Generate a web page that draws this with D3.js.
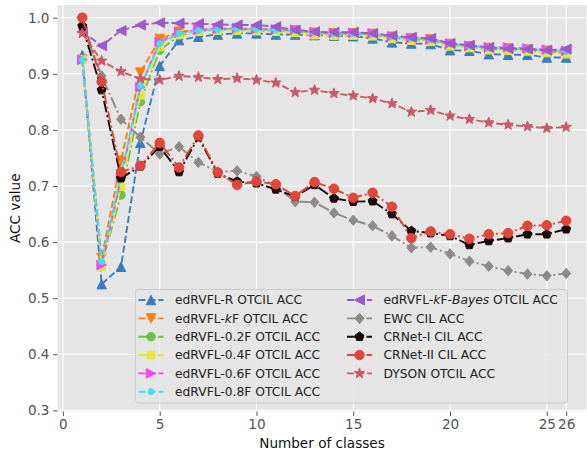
<!DOCTYPE html>
<html>
<head>
<meta charset="utf-8">
<script src="https://cdn.jsdelivr.net/npm/d3@7"></script>
<style>
  body { margin: 0; background: #fff; }
  svg { display: block; font-family: "DejaVu Sans", sans-serif; }
</style>
</head>
<body>
<svg id="chart" width="587" height="452"></svg>
<script>
// Number of classes seen so far
const classes = d3.range(1, 27);

// Accuracy per step, one array per method
const edRVFL_R    = [0.933, 0.525, 0.556, 0.777, 0.914, 0.960, 0.966, 0.970, 0.972, 0.972, 0.970, 0.970, 0.969, 0.968, 0.967, 0.963, 0.956, 0.954, 0.953, 0.942, 0.941, 0.935, 0.934, 0.934, 0.929, 0.929];
const edRVFL_kF   = [0.925, 0.572, 0.745, 0.902, 0.962, 0.975, 0.978, 0.980, 0.980, 0.979, 0.978, 0.977, 0.973, 0.972, 0.972, 0.971, 0.966, 0.963, 0.961, 0.953, 0.949, 0.946, 0.945, 0.943, 0.941, 0.939];
const edRVFL_02F  = [0.925, 0.560, 0.684, 0.850, 0.942, 0.968, 0.975, 0.978, 0.978, 0.977, 0.976, 0.975, 0.971, 0.970, 0.970, 0.969, 0.964, 0.961, 0.959, 0.951, 0.947, 0.944, 0.943, 0.941, 0.939, 0.937];
const edRVFL_04F  = [0.925, 0.556, 0.699, 0.862, 0.948, 0.970, 0.975, 0.977, 0.977, 0.976, 0.975, 0.973, 0.969, 0.968, 0.968, 0.967, 0.962, 0.959, 0.957, 0.949, 0.946, 0.942, 0.941, 0.940, 0.937, 0.935];
const edRVFL_06F  = [0.925, 0.559, 0.714, 0.876, 0.957, 0.973, 0.978, 0.980, 0.981, 0.980, 0.979, 0.979, 0.974, 0.973, 0.973, 0.972, 0.967, 0.964, 0.962, 0.954, 0.950, 0.947, 0.947, 0.945, 0.943, 0.941];
const edRVFL_08F  = [0.925, 0.565, 0.720, 0.878, 0.954, 0.972, 0.977, 0.979, 0.980, 0.979, 0.978, 0.977, 0.973, 0.972, 0.972, 0.971, 0.966, 0.963, 0.961, 0.953, 0.949, 0.946, 0.945, 0.944, 0.942, 0.940];
const edRVFL_kFBayes = [0.975, 0.950, 0.977, 0.987, 0.991, 0.990, 0.989, 0.988, 0.987, 0.987, 0.984, 0.978, 0.975, 0.974, 0.974, 0.972, 0.968, 0.965, 0.963, 0.954, 0.951, 0.947, 0.945, 0.944, 0.942, 0.944];
const EWC         = [0.987, 0.896, 0.819, 0.787, 0.757, 0.770, 0.742, 0.725, 0.727, 0.717, 0.700, 0.672, 0.671, 0.652, 0.639, 0.629, 0.611, 0.590, 0.591, 0.579, 0.566, 0.557, 0.549, 0.543, 0.540, 0.544];
const CRNet_I     = [0.985, 0.871, 0.714, 0.735, 0.770, 0.725, 0.787, 0.722, 0.708, 0.705, 0.694, 0.681, 0.702, 0.678, 0.672, 0.673, 0.650, 0.620, 0.616, 0.611, 0.595, 0.602, 0.607, 0.614, 0.614, 0.623];
const CRNet_II    = [1.000, 0.886, 0.725, 0.736, 0.777, 0.733, 0.790, 0.724, 0.702, 0.708, 0.703, 0.682, 0.707, 0.695, 0.679, 0.688, 0.663, 0.607, 0.619, 0.614, 0.606, 0.614, 0.616, 0.629, 0.630, 0.638];
const DYSON       = [0.972, 0.923, 0.904, 0.891, 0.889, 0.896, 0.894, 0.890, 0.892, 0.889, 0.884, 0.867, 0.871, 0.865, 0.861, 0.856, 0.847, 0.832, 0.835, 0.825, 0.819, 0.813, 0.809, 0.806, 0.803, 0.805];

// Tick labels
const xTicks = [0, 5, 10, 15, 20, 25, 26];
const yTicks = [0.3, 0.4, 0.5, 0.6, 0.7, 0.8, 0.9, 1.0];

// Series definitions: label pieces (text, italic), data, colour, dash, marker
const series = [
  { label: [["edRVFL-R OTCIL ACC", false]], values: edRVFL_R, color: "#3a7dbd", dash: "--", marker: "^", size: 9.5 },
  { label: [["edRVFL-", false], ["k", true], ["F OTCIL ACC", false]], values: edRVFL_kF, color: "#ff7f0e", dash: "--", marker: "v", size: 9.5 },
  { label: [["edRVFL-0.2F OTCIL ACC", false]], values: edRVFL_02F, color: "#6cc04a", dash: "-.", marker: "o", size: 8.5 },
  { label: [["edRVFL-0.4F OTCIL ACC", false]], values: edRVFL_04F, color: "#e6e63c", dash: "-.", marker: "s", size: 8.5 },
  { label: [["edRVFL-0.6F OTCIL ACC", false]], values: edRVFL_06F, color: "#f545f5", dash: "--", marker: ">", size: 9.5 },
  { label: [["edRVFL-0.8F OTCIL ACC", false]], values: edRVFL_08F, color: "#40e0ec", dash: "--", marker: ".", size: 6 },
  { label: [["edRVFL-", false], ["k", true], ["F-", false], ["Bayes", true], [" OTCIL ACC", false]], values: edRVFL_kFBayes, color: "#9d57cf", dash: "--", marker: "<", size: 10 },
  { label: [["EWC CIL ACC", false]], values: EWC, color: "#8f8a88", dash: "-.", marker: "D", size: 9.5 },
  { label: [["CRNet-I CIL ACC", false]], values: CRNet_I, color: "#1c0808", dash: "-.", marker: "p", size: 9 },
  { label: [["CRNet-II CIL ACC", false]], values: CRNet_II, color: "#e0463a", dash: "-.", marker: "o", size: 9.5 },
  { label: [["DYSON OTCIL ACC", false]], values: DYSON, color: "#c95a6a", dash: "--", marker: "*", size: 11 }
];

const svg = d3.select("#chart");
const plot = { left: 57.5, right: 586.5, top: 5, bottom: 411.5 };

const x = d3.scaleLinear().domain([-0.28, 27.05]).range([plot.left, plot.right]);
const y = d3.scaleLinear().domain([0.298, 1.0226]).range([plot.bottom, plot.top]);

// Panel background
svg.append("rect")
  .attr("x", plot.left).attr("y", plot.top)
  .attr("width", plot.right - plot.left).attr("height", plot.bottom - plot.top)
  .attr("fill", "#e5e5e5");

// White grid
const grid = svg.append("g").attr("stroke", "#fff").attr("stroke-width", 1.1);
xTicks.forEach(t => grid.append("line")
  .attr("x1", x(t)).attr("x2", x(t)).attr("y1", plot.top).attr("y2", plot.bottom));
yTicks.forEach(t => grid.append("line")
  .attr("x1", plot.left).attr("x2", plot.right).attr("y1", y(t)).attr("y2", y(t)));

// Axes
const xAxis = svg.append("g")
  .attr("transform", `translate(0,${plot.bottom})`)
  .call(d3.axisBottom(x).tickValues(xTicks).tickFormat(d3.format("d")).tickSize(4.5).tickPadding(3));
const yAxis = svg.append("g")
  .attr("transform", `translate(${plot.left},0)`)
  .call(d3.axisLeft(y).tickValues(yTicks).tickFormat(d3.format(".1f")).tickSize(4.5).tickPadding(3.5));
[xAxis, yAxis].forEach(a => {
  a.select(".domain").remove();
  a.selectAll(".tick line").attr("stroke", "#555").attr("stroke-width", 1);
  a.selectAll(".tick text").attr("fill", "#555").attr("font-size", 13.6)
    .attr("font-family", "DejaVu Sans, sans-serif");
});

svg.append("text")
  .attr("x", (plot.left + plot.right) / 2).attr("y", 448)
  .attr("text-anchor", "middle").attr("font-size", 13.6).attr("fill", "#111")
  .text("Number of classes");
svg.append("text")
  .attr("transform", `translate(20,${(plot.top + plot.bottom) / 2}) rotate(-90)`)
  .attr("text-anchor", "middle").attr("font-size", 13.6).attr("fill", "#111")
  .text("ACC value");

// Dash patterns for line width ~1.9
function dashArray(d) {
  if (d === "--") return "7,3";
  if (d === "-.") return "11.5,3,2,3";
  if (d === ":") return "2,3";
  return null;
}

// Marker shapes centred at the origin
function markerPath(type, s) {
  const h = s / 2;
  switch (type) {
    case "^": return `M0,${-h}L${h},${h}L${-h},${h}Z`;
    case "v": return `M0,${h}L${h},${-h}L${-h},${-h}Z`;
    case "<": return `M${-h},0L${h},${-h}L${h},${h}Z`;
    case ">": return `M${h},0L${-h},${-h}L${-h},${h}Z`;
    case "s": { const a = h * 0.9; return `M${-a},${-a}H${a}V${a}H${-a}Z`; }
    case "D": { const a = h * 1.1; return `M0,${-a}L${a * 0.85},0L0,${a}L${-a * 0.85},0Z`; }
    case "o": case ".": return d3.arc()({ innerRadius: 0, outerRadius: h, startAngle: 0, endAngle: 2 * Math.PI });
    case "p": {
      const pts = d3.range(5).map(i => { const a = -Math.PI / 2 + i * 2 * Math.PI / 5; return [h * 1.05 * Math.cos(a), h * 1.05 * Math.sin(a)]; });
      return "M" + pts.map(p => p.join(",")).join("L") + "Z";
    }
    case "*": {
      const pts = d3.range(10).map(i => { const r = i % 2 ? h * 0.42 : h; const a = -Math.PI / 2 + i * Math.PI / 5; return [r * Math.cos(a), r * Math.sin(a)]; });
      return "M" + pts.map(p => p.join(",")).join("L") + "Z";
    }
  }
}

const line = d3.line().x(d => x(d[0])).y(d => y(d[1]));
svg.append("clipPath").attr("id", "plot-clip").append("rect")
  .attr("x", plot.left).attr("y", plot.top)
  .attr("width", plot.right - plot.left).attr("height", plot.bottom - plot.top);

const marks = svg.append("g").attr("clip-path", "url(#plot-clip)");
series.forEach(s => {
  const pts = classes.map((c, i) => [c, s.values[i]]);
  const g = marks.append("g");
  g.append("path")
    .attr("d", line(pts))
    .attr("fill", "none").attr("stroke", s.color).attr("stroke-width", 1.9)
    .attr("stroke-dasharray", dashArray(s.dash));
  g.selectAll("path.m").data(pts).join("path")
    .attr("class", "m")
    .attr("transform", d => `translate(${x(d[0])},${y(d[1])})`)
    .attr("d", markerPath(s.marker, s.size))
    .attr("fill", s.color).attr("stroke", s.color).attr("stroke-width", 1);
});

// Legend
const legend = svg.append("g");
legend.append("rect")
  .attr("x", 135.5).attr("y", 289.5).attr("width", 432).attr("height", 113.5)
  .attr("rx", 3).attr("fill", "#e5e5e5").attr("fill-opacity", 0.85)
  .attr("stroke", "#cccccc").attr("stroke-width", 1);

const rowY = i => 300 + i * 18.35;
series.forEach((s, i) => {
  const col = i < 6 ? 0 : 1;
  const row = i < 6 ? i : i - 6;
  const hx = col === 0 ? 138.5 : 347;
  const ty = rowY(row);
  const g = legend.append("g");
  g.append("line")
    .attr("x1", hx).attr("x2", hx + 25).attr("y1", ty).attr("y2", ty)
    .attr("stroke", s.color).attr("stroke-width", 1.9)
    .attr("stroke-dasharray", dashArray(s.dash));
  g.append("path")
    .attr("transform", `translate(${hx + 12.5},${ty})`)
    .attr("d", markerPath(s.marker, s.size))
    .attr("fill", s.color).attr("stroke", s.color).attr("stroke-width", 1);
  const t = g.append("text")
    .attr("x", hx + 36.5).attr("y", ty + 4.4)
    .attr("font-size", 12.3).attr("fill", "#222");
  s.label.forEach(([txt, it]) => t.append("tspan").attr("font-style", it ? "italic" : "normal").text(txt));
});
</script>
</body>
</html>
